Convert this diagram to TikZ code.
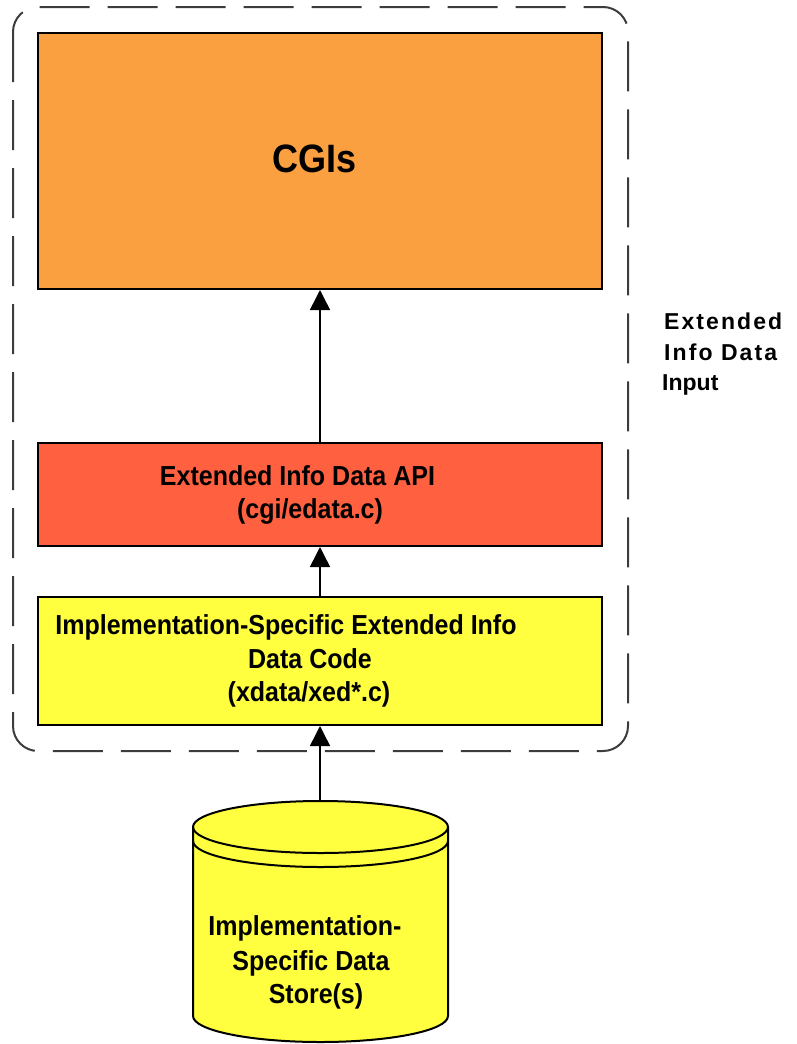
\documentclass[tikz,border=0pt]{standalone}
\usepackage{fontspec}
\setmainfont{Liberation Sans}
\usetikzlibrary{arrows.meta}
\definecolor{cgiorange}{RGB}{251,160,64}
\definecolor{apired}{RGB}{255,96,64}
\definecolor{codeyellow}{RGB}{255,255,64}
\definecolor{dashgray}{RGB}{60,60,60}
\newcommand{\tallt}[1]{\scalebox{1}[1.1]{#1}}
\tikzset{
  block/.style={draw=black, line width=2pt, minimum width=564pt, inner sep=0pt},
  btxt/.style={anchor=base, inner sep=0pt, font=\fontsize{25}{30}\selectfont\bfseries},
  sidetxt/.style={anchor=base west, inner sep=0pt, font=\fontsize{23}{26}\selectfont\bfseries},
  conn/.style={line width=1.5pt, -{Triangle[width=20pt,length=20pt]}},
}
\begin{document}
\begin{tikzpicture}[x=1pt,y=-1pt]
\useasboundingbox (0,0) rectangle (796,1044);
% dashed group
\draw[dashgray, line width=2pt, dash pattern=on 50pt off 18pt, rounded corners=25pt] (13,7) rectangle (628,751);
% boxes
\node[block, fill=cgiorange, minimum height=256pt] (cgi) at (320,161) {};
\node[block, fill=apired, minimum height=103pt] (api) at (320,494.5) {};
\node[block, fill=codeyellow, minimum height=128pt] (impl) at (320,661) {};
% texts
\node[anchor=base, inner sep=0pt, font=\fontsize{36}{40}\selectfont\bfseries] (cgit) at (315,172) {\tallt{CGIs}};
\node[btxt] (apit1) at (297.5,485) {\tallt{Extended Info Data API}};
\node[btxt] (apit2) at (310,518) {\tallt{(cgi/edata.c)}};
\node[btxt] (implt1) at (286,634) {\tallt{Implementation-Specific Extended Info}};
\node[btxt] (implt2) at (310,668) {\tallt{Data Code}};
\node[btxt] (implt3) at (309,701) {\tallt{(xdata/xed*.c)}};
% side label
\node[sidetxt] (side1) at (664,329) {\addfontfeature{LetterSpace=9}Extended};
\node[sidetxt] (side2) at (664,360) {\addfontfeature{LetterSpace=9}Info Data};
\node[sidetxt] (side3) at (662,390) {Input};
% cylinder
\fill[codeyellow] (193,827) -- (193,1016) arc[start angle=180,end angle=360,x radius=127.5pt,y radius=26pt] -- (448,827) arc[start angle=0,end angle=180,x radius=127.5pt,y radius=26pt] -- cycle;
\draw[line width=2pt] (193,827) -- (193,1016) arc[start angle=180,end angle=360,x radius=127.5pt,y radius=26pt] -- (448,827) arc[start angle=0,end angle=180,x radius=127.5pt,y radius=26pt];
\draw[line width=2pt] (193,827) arc[start angle=180,end angle=360,x radius=127.5pt,y radius=26pt];
\draw[line width=2pt] (193,841) arc[start angle=180,end angle=360,x radius=127.5pt,y radius=26pt];
\coordinate (cyltop) at (320,801);
\node[btxt] (cylt1) at (305,935) {\tallt{Implementation-}};
\node[btxt] (cylt2) at (311,970) {\tallt{Specific Data}};
\node[btxt] (cylt3) at (316,1003) {\tallt{Store(s)}};
% connectors
\draw[conn] (cyltop) -- (impl.south);
\draw[conn] (impl.north) -- (api.south);
\draw[conn] (api.north) -- (cgi.south);
\end{tikzpicture}
\end{document}
